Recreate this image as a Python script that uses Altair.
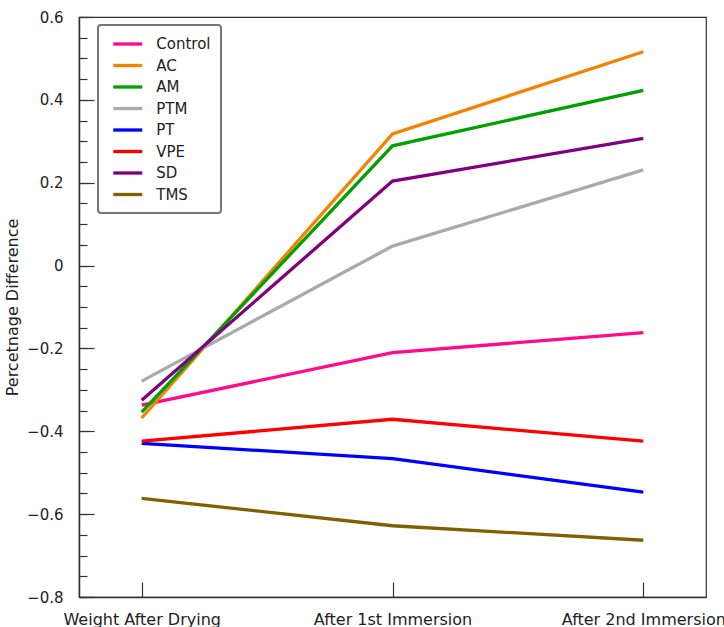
import altair as alt
import pandas as pd

stages = ["Weight After Drying", "After 1st Immersion", "After 2nd Immersion"]
series = ["Control", "AC", "AM", "PTM", "PT", "VPE", "SD", "TMS"]
colors = ["#ff0a8c", "#f58200", "#00a000", "#aaaaaa", "#0000ff", "#ff0000", "#800080", "#806000"]

control = [-0.337, -0.210, -0.162]
ac = [-0.368, 0.318, 0.516]
am = [-0.354, 0.289, 0.423]
ptm = [-0.279, 0.047, 0.231]
pt = [-0.429, -0.466, -0.547]
vpe = [-0.424, -0.371, -0.424]
sd = [-0.325, 0.204, 0.307]
tms = [-0.562, -0.628, -0.663]

major_ticks = [-0.8, -0.6, -0.4, -0.2, 0, 0.2, 0.4, 0.6]
minor_ticks = [round(-0.8 + 0.05 * i, 2) for i in range(29)]

values = [control, ac, am, ptm, pt, vpe, sd, tms]
rows = []
for s_i, (name, vals) in enumerate(zip(series, values)):
    for i, (st, v) in enumerate(zip(stages, vals)):
        rows.append({"series": name, "stage": st, "idx": i, "value": v, "sidx": s_i})
df = pd.DataFrame(rows)

FONT = "DejaVu Sans"
W, H = 627, 580

xscale = alt.Scale(type="point", domain=stages, padding=0.25)
yscale = alt.Scale(domain=[-0.8, 0.6], nice=False, zero=False)

base = alt.Chart(df)

lines = base.mark_line(strokeWidth=3.3).encode(
    x=alt.X("stage:N", sort=stages, scale=xscale,
            axis=alt.Axis(title=None, ticks=False, tickSize=0, labelPadding=14,
                          labelFontSize=16, labelFont=FONT, labelColor="#222",
                          domainColor="#333", domainWidth=1.5, labelAngle=0,
                          grid=False, orient="bottom")),
    y=alt.Y("value:Q", scale=yscale,
            axis=alt.Axis(title="Percetnage Difference", values=major_ticks, format="~g",
                          ticks=False, tickSize=0, labelPadding=16, labelFontSize=15,
                          labelFont=FONT, labelColor="#222", titleFont=FONT,
                          titleFontSize=16, titleFontWeight="normal", titleColor="#222",
                          titlePadding=6, domainColor="#333", domainWidth=1.5,
                          grid=False, orient="left")),
    color=alt.Color("series:N", scale=alt.Scale(domain=series, range=colors),
                    legend=alt.Legend(title=None)),
    order=alt.Order("idx:Q"),
    detail="series:N",
)

minor = base.mark_line(opacity=0).encode(
    x=alt.X("stage:N", sort=stages, scale=xscale, axis=None),
    y=alt.Y("value:Q", scale=yscale,
            axis=alt.Axis(orient="right", offset=-W, values=minor_ticks, tickSize=8,
                          labels=False, domain=False, title=None, grid=False,
                          tickColor="#333", tickWidth=1.2)),
    detail="series:N",
)

major = base.mark_line(opacity=0).encode(
    x=alt.X("stage:N", sort=stages, scale=xscale, axis=None),
    y=alt.Y("value:Q", scale=yscale,
            axis=alt.Axis(orient="right", offset=-W, values=major_ticks, tickSize=15,
                          labels=False, domain=False, title=None, grid=False,
                          tickColor="#333", tickWidth=1.2)),
    detail="series:N",
)

xticks = base.mark_line(opacity=0).encode(
    x=alt.X("stage:N", sort=stages, scale=xscale,
            axis=alt.Axis(orient="top", offset=-H, tickSize=15, labels=False,
                          domain=False, title=None, grid=False,
                          tickColor="#333", tickWidth=1.2)),
    y=alt.Y("value:Q", scale=yscale, axis=None),
    detail="series:N",
)

chart = alt.layer(lines, minor, major, xticks).resolve_axis(
    x="independent", y="independent"
).properties(
    width=W, height=H,
    autosize=alt.AutoSizeParams(type="none"),
    padding={"left": 79, "top": 17, "right": 18, "bottom": 30},
    background="white",
).configure_view(
    stroke="#333", strokeWidth=1.2
).configure_legend(
    orient="none", legendX=19, legendY=8,
    symbolType="M-2,0H2", symbolSize=210, symbolStrokeWidth=3.3,
    symbolOffset=10.75, labelOffset=19.5,
    labelFont=FONT, labelFontSize=15, labelColor="#222",
    padding=10, rowPadding=4.5,
    strokeColor="#777", strokeWidth=2, cornerRadius=3, fillColor="white",
)

chart.save("out.html", embed_options={"renderer": "svg", "actions": False})
